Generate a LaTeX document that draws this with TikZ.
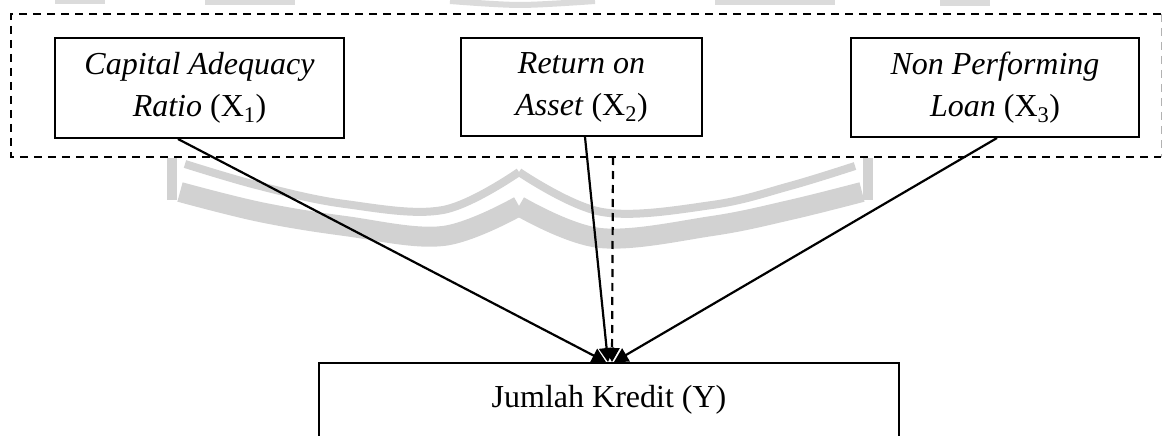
\documentclass[tikz,border=0pt]{standalone}
\usepackage{fontspec}
\setmainfont{Liberation Serif}
\usetikzlibrary{arrows.meta,calc}
\begin{document}
\begin{tikzpicture}[x=1pt,y=-1pt,
  box/.style={draw,line width=2pt,inner sep=0pt,align=center,font=\fontsize{32}{42}\selectfont},
  txt/.style={inner sep=0pt,font=\fontsize{32}{42}\selectfont},
  conn/.style={line width=2.2pt,-{Triangle[length=14pt,width=15pt]}},
  grpline/.style={line width=1.8pt,dash pattern=on 8pt off 6pt},
  wm/.style={gray!35,line cap=butt,line join=round}]
\useasboundingbox (0,0) rectangle (1163,436);
\clip (0,0) rectangle (1163,436);
% watermark
\draw[wm,line width=8pt] plot[smooth,tension=0.6] coordinates {(185,164) (260,186) (345,204) (443,210) (519,172)};
\draw[wm,line width=8pt] plot[smooth,tension=0.6] coordinates {(519,172) (602,212) (712,205) (790,186) (855,166)};
\draw[wm,line width=20pt] plot[smooth,tension=0.6] coordinates {(180,192) (260,212) (345,226) (443,236) (519,206)};
\draw[wm,line width=20pt] plot[smooth,tension=0.6] coordinates {(519,206) (600,238) (712,226) (790,210) (862,192)};
\draw[wm,line width=10pt] (172,158) -- (172,200);
\draw[wm,line width=10pt] (868,158) -- (868,200);
\draw[wm,gray!28,line width=6pt] (55,1) -- (105,1);
\draw[wm,gray!28,line width=6pt] (205,2) -- (295,2);
\draw[wm,gray!28,line width=6pt] plot[smooth] coordinates {(450,1) (520,5) (595,1)};
\draw[wm,gray!28,line width=6pt] (715,2) -- (835,2);
\draw[wm,gray!28,line width=7pt] (940,3) -- (990,3);
% group frame
\draw[grpline] (1161,14) -- (11,14) -- (11,157) -- (1161,157);
\draw[grpline,gray!60,line width=1pt] (1161,14) -- (1161,157);
\coordinate (d0) at (613,157);
% nodes
\node[box,minimum width=289pt,minimum height=100pt] (b1) at (199.5,88) {\textit{Capital Adequacy}\\\textit{Ratio} (X\textsubscript{1})};
\node[box,minimum width=241pt,minimum height=98pt] (b2) at (581.5,87) {\textit{Return on}\\\textit{Asset} (X\textsubscript{2})};
\node[box,minimum width=288pt,minimum height=99pt] (b3) at (995,87.5) {\textit{Non Performing}\\\textit{Loan} (X\textsubscript{3})};
\node[draw,line width=2pt,inner sep=0pt,minimum width=580pt,minimum height=120pt,anchor=north] (y) at (609,362) {};
\node[txt] (yt) at (609,400) {Jumlah Kredit (Y)};
% connectors
\draw[conn] ([xshift=-21.5pt]b1.south) -- ([xshift=-3pt]y.north);
\draw[conn] ([xshift=3.5pt]b2.south) -- ([xshift=-1pt]y.north);
\draw[conn] ([xshift=2pt]b3.south) -- ([xshift=5pt]y.north);
\draw[conn,dash pattern=on 8pt off 6pt] (d0) -- ([xshift=3pt]y.north);
\end{tikzpicture}
\end{document}
